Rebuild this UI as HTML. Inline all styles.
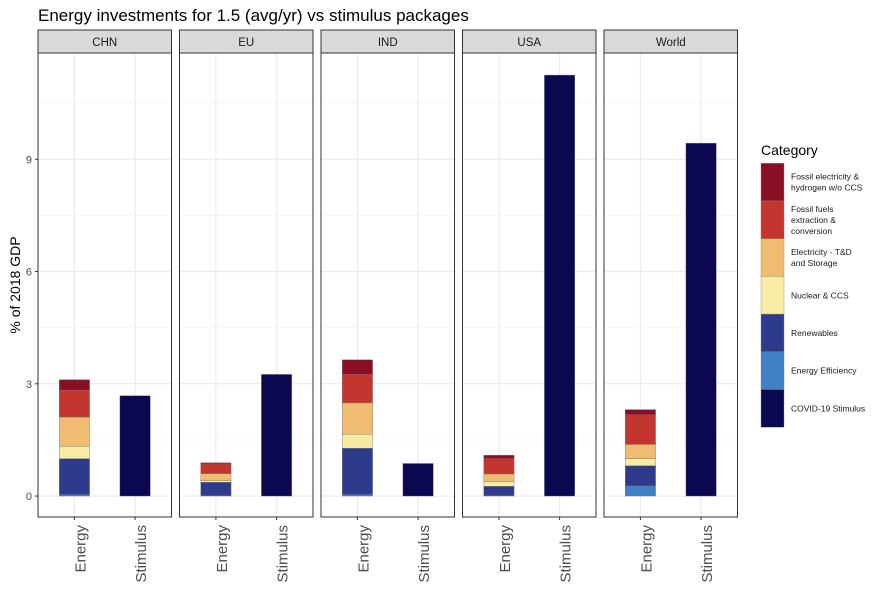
<!DOCTYPE html>
<html><head><meta charset="utf-8"><style>
body{margin:0;background:#fff;}
svg{display:block;font-family:"Liberation Sans",Arial,sans-serif;}
</style></head><body>
<svg id="chart" width="888" height="593" viewBox="0 0 888 593" xmlns="http://www.w3.org/2000/svg">
<text x="38" y="21" font-size="17" fill="#000">Energy investments for 1.5 (avg/yr) vs stimulus packages</text>
<text transform="translate(20,285) rotate(-90)" text-anchor="middle" font-size="14" fill="#000">% of 2018 GDP</text>
<g id="panels"></g>
<g id="legend"></g>
</svg>
<script>
const regions = ["CHN","EU","IND","USA","World"];
const categories = ["Energy Efficiency","Renewables","Nuclear & CCS","Electricity - T&D and Storage","Fossil fuels extraction & conversion","Fossil electricity & hydrogen w/o CCS"];
const energyEfficiency = [0.04,0.01,0.04,0.01,0.27];
const renewables = [0.96,0.36,1.24,0.25,0.54];
const nuclearCCS = [0.33,0.04,0.37,0.12,0.19];
const electricityTD = [0.78,0.19,0.84,0.21,0.38];
const fossilFuels = [0.72,0.26,0.76,0.41,0.79];
const fossilElectricity = [0.28,0.03,0.39,0.09,0.14];
const stimulus = [2.68,3.25,0.87,11.25,9.43];
const yTicks = [0,3,6,9];
const xLabels = ["Energy","Stimulus"];
const colors = ["#4080C4","#2E3A8C","#F8ECA5","#F0BC72","#C43530","#8B0F24"];
const covidColor = "#0B0750";
const legendLabels = [["Fossil electricity &","hydrogen w/o CCS"],["Fossil fuels","extraction &","conversion"],["Electricity - T&D","and Storage"],["Nuclear & CCS"],["Renewables"],["Energy Efficiency"],["COVID-19 Stimulus"]];
const legendColors = ["#8B0F24","#C43530","#F0BC72","#F8ECA5","#2E3A8C","#4080C4","#0B0750"];

const NS="http://www.w3.org/2000/svg";
function mk(tag,attrs,parent){const e=document.createElementNS(NS,tag);for(const k in attrs)e.setAttribute(k,attrs[k]);parent.appendChild(e);return e;}
const yMin=-0.56,yMax=11.84,plotTop=53,plotBot=517;
function yS(v){return plotBot-(v-yMin)/(yMax-yMin)*(plotBot-plotTop);}
const panelX=[38,179.5,321,462.5,604],pw=133.5;
function xS(i,p){return panelX[p]+(i+1-0.4)/2.2*pw;}
const series=[energyEfficiency,renewables,nuclearCCS,electricityTD,fossilFuels,fossilElectricity];
const panels=document.getElementById('panels');
const bw=pw*0.5/2.2;
regions.forEach((r,p)=>{
  const g=mk('g',{},panels);
  
  
  const strip=mk('rect',{x:panelX[p],y:30,width:pw,height:23,fill:'#D9D9D9',stroke:'#333','stroke-width':1},g);
  
  
  const st=mk('text',{x:panelX[p]+pw/2,y:46,'text-anchor':'middle','font-size':11.5,fill:'#1a1a1a'},g);
  st.textContent=r;
  
  
  [1.5,4.5,7.5,10.5].forEach(v=>mk('line',{x1:panelX[p],x2:panelX[p]+pw,y1:yS(v),y2:yS(v),stroke:'#F2F2F2','stroke-width':0.6},g));
  yTicks.forEach(v=>mk('line',{x1:panelX[p],x2:panelX[p]+pw,y1:yS(v),y2:yS(v),stroke:'#EBEBEB','stroke-width':1.2},g));
  [0,1].forEach(i=>mk('line',{x1:xS(i,p),x2:xS(i,p),y1:plotTop,y2:plotBot,stroke:'#EBEBEB','stroke-width':1.2},g));
  let cum=0;
  series.forEach((s,k)=>{
    const v=s[p];
    const b=mk('rect',{x:xS(0,p)-bw/2,y:yS(cum+v),width:bw,height:Math.max(0,yS(cum)-yS(cum+v)),fill:colors[k],stroke:'#777','stroke-width':0.4},g);
    
    
    cum+=v;
  });
  const sb=mk('rect',{x:xS(1,p)-bw/2,y:yS(stimulus[p]),width:bw,height:yS(0)-yS(stimulus[p]),fill:covidColor,stroke:'#777','stroke-width':0.4},g);
  
  
  mk('rect',{x:panelX[p],y:plotTop,width:pw,height:plotBot-plotTop,fill:'none',stroke:'#333','stroke-width':1},g);
  xLabels.forEach((l,i)=>{
    mk('line',{x1:xS(i,p),x2:xS(i,p),y1:plotBot,y2:plotBot+3,stroke:'#333'},g);
    const t=mk('text',{transform:`translate(${xS(i,p)+11},${plotBot+8}) rotate(-90)`,'text-anchor':'end','font-size':15,fill:'#4d4d4d'},g);
    t.textContent=l;
    
    
  });
});
yTicks.forEach(v=>{
  mk('line',{x1:35,x2:38,y1:yS(v),y2:yS(v),stroke:'#333'},panels);
  const t=mk('text',{x:32,y:yS(v)+4,'text-anchor':'end','font-size':11,fill:'#4d4d4d'},panels);
  t.textContent=v;
  
  
});
const lg=document.getElementById('legend');


const lt=mk('text',{x:761,y:155,'font-size':14,fill:'#000'},lg);
lt.textContent='Category';


legendLabels.forEach((lines,i)=>{
  const y0=163.3+i*37.7;
  const r=mk('rect',{x:761,y:y0,width:23,height:37.7,fill:legendColors[i],stroke:'#888','stroke-width':0.4},lg);
  
  
  const t=mk('text',{x:791,'font-size':8.5,fill:'#1a1a1a'},lg);
  
  
  const n=lines.length, cy=y0+37.7/2;
  lines.forEach((ln,j)=>{const ts=mk('tspan',{x:791,y:cy+3+(j-(n-1)/2)*11},t);ts.textContent=ln;});
});
</script>
</body></html>
